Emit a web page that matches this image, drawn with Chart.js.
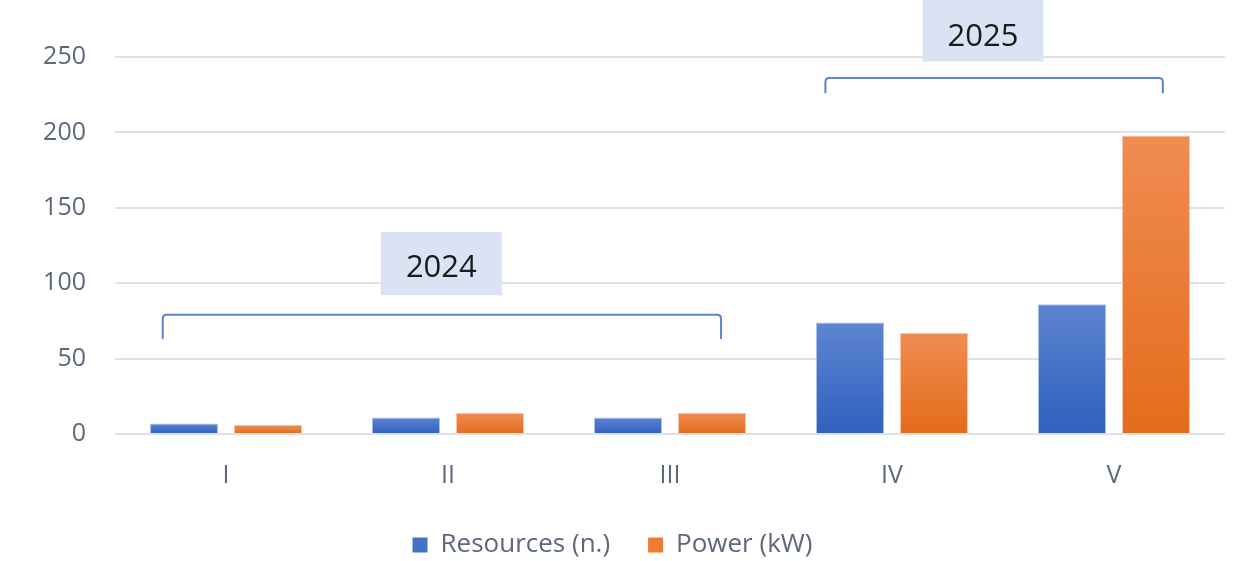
<!DOCTYPE html>
<html>
<head>
<meta charset="utf-8">
<script src="https://cdn.jsdelivr.net/npm/chart.js@4"></script>
<style>
  html, body { margin: 0; padding: 0; background: #ffffff; }
  #wrap { width: 1245px; height: 561px; position: relative; }
</style>
</head>
<body>
<div id="wrap"><canvas id="c"></canvas></div>
<script>
// ---- data ----
const categories = ['I', 'II', 'III', 'IV', 'V'];
const resources = [7, 11, 11, 74, 86];
const power = [6, 14, 14, 67, 198];
const seriesNames = ['Resources (n.)', 'Power (kW)'];
const yTicks = [0, 50, 100, 150, 200, 250];
const groupLabels = ['2024', '2025'];
const groupFrom = [-0.285, 2.70];   // category index where bracket starts
const groupTo = [2.23, 4.22];       // category index where bracket ends
const groupTop = [79, 236];         // y value of bracket top
const groupDrop = [16, 10];         // bracket leg length (y units)
const labelBottom = [92, 247];      // y value of label box bottom
const labelTop = [134, 290];        // y value of label box top
const labelText = [110, 263];       // y value of label text centre
const labelCenter = [0.97, 3.41];   // category index of label box centre

const FONT = '"Open Sans", "Noto Sans", sans-serif';
const TICK_COLOR = '#5d687a';

function barGradient(ctx, top, bottom) {
  const chart = ctx.chart;
  if (!chart.chartArea || ctx.type !== 'data') return top;
  const y = chart.scales.y;
  const v = ctx.parsed ? ctx.parsed.y : ctx.raw;
  const y1 = y.getPixelForValue(v);
  const y0 = y.getPixelForValue(0);
  if (!isFinite(y1) || !isFinite(y0) || y1 === y0) return top;
  const g = chart.ctx.createLinearGradient(0, y1, 0, y0);
  g.addColorStop(0, top);
  g.addColorStop(1, bottom);
  return g;
}

const bracketPlugin = {
  id: 'brackets',
  afterDatasetsDraw(chart) {
    const { ctx, scales: { x, y } } = chart;
    ctx.save();
    for (let i = 0; i < groupLabels.length; i++) {
      const x0 = x.getPixelForValue(groupFrom[i]);
      const x1 = x.getPixelForValue(groupTo[i]);
      const yt = y.getPixelForValue(groupTop[i]);
      const yb = y.getPixelForValue(groupTop[i] - groupDrop[i]);
      const r = 4;
      ctx.beginPath();
      ctx.moveTo(x0, yb);
      ctx.lineTo(x0, yt + r);
      ctx.quadraticCurveTo(x0, yt, x0 + r, yt);
      ctx.lineTo(x1 - r, yt);
      ctx.quadraticCurveTo(x1, yt, x1, yt + r);
      ctx.lineTo(x1, yb);
      ctx.strokeStyle = '#5b85d0';
      ctx.lineWidth = 2;
      ctx.stroke();

      // label box
      const bT = y.getPixelForValue(labelTop[i]);
      const bB = y.getPixelForValue(labelBottom[i]);
      const cx = x.getPixelForValue(labelCenter[i]);
      const w = 121;
      ctx.fillStyle = '#dae3f3';
      ctx.fillRect(cx - w / 2, bT, w, bB - bT);
      ctx.fillStyle = '#1a1a1a';
      ctx.font = '31px ' + FONT;
      ctx.textAlign = 'center';
      ctx.textBaseline = 'middle';
      ctx.fillText(groupLabels[i], cx, y.getPixelForValue(labelText[i]));
    }
    ctx.restore();
  }
};

new Chart(document.getElementById('c'), {
  type: 'bar',
  data: {
    labels: categories,
    datasets: [
      {
        label: seriesNames[0],
        data: resources,
        backgroundColor: (c) => barGradient(c, '#5d85d0', '#2f60bf'),
        borderColor: 'rgba(160,185,230,0.9)',
        borderWidth: 1,
        legendColor: '#4472c4'
      },
      {
        label: seriesNames[1],
        data: power,
        backgroundColor: (c) => barGradient(c, '#f08c52', '#e46c1b'),
        borderColor: 'rgba(248,190,160,0.9)',
        borderWidth: 1,
        legendColor: '#ed7d31'
      }
    ]
  },
  options: {
    responsive: true,
    maintainAspectRatio: false,
    animation: false,
    devicePixelRatio: 1,
    categoryPercentage: 0.757,
    barPercentage: 0.81,
    layout: { padding: { top: 57, right: 20, bottom: -7, left: 0 } },
    scales: {
      x: {
        grid: { display: false },
        border: { display: false },
        afterFit: (s) => { s.height = 60; },
        ticks: { color: TICK_COLOR, font: { family: FONT, size: 25 }, padding: 19 }
      },
      y: {
        min: 0,
        max: 250,
        afterBuildTicks: (s) => { s.ticks = yTicks.map(v => ({ value: v })); },
        afterFit: (s) => { s.width = 115; },
        grid: { color: '#dde1ea', lineWidth: 2, drawTicks: false },
        border: { display: false },
        ticks: { color: TICK_COLOR, font: { family: FONT, size: 25 }, padding: 29 }
      }
    },
    plugins: {
      tooltip: { enabled: false },
      legend: {
        position: 'bottom',
        labels: {
          color: TICK_COLOR,
          font: { family: FONT, size: 26 },
          boxWidth: 15,
          boxHeight: 15,
          padding: 38,
          generateLabels: (chart) => chart.data.datasets.map((d, i) => ({
            text: d.label,
            fillStyle: d.legendColor,
            strokeStyle: d.legendColor,
            lineWidth: 0,
            hidden: false,
            datasetIndex: i,
            fontColor: TICK_COLOR
          }))
        }
      }
    }
  },
  plugins: [bracketPlugin]
});
</script>
</body>
</html>
